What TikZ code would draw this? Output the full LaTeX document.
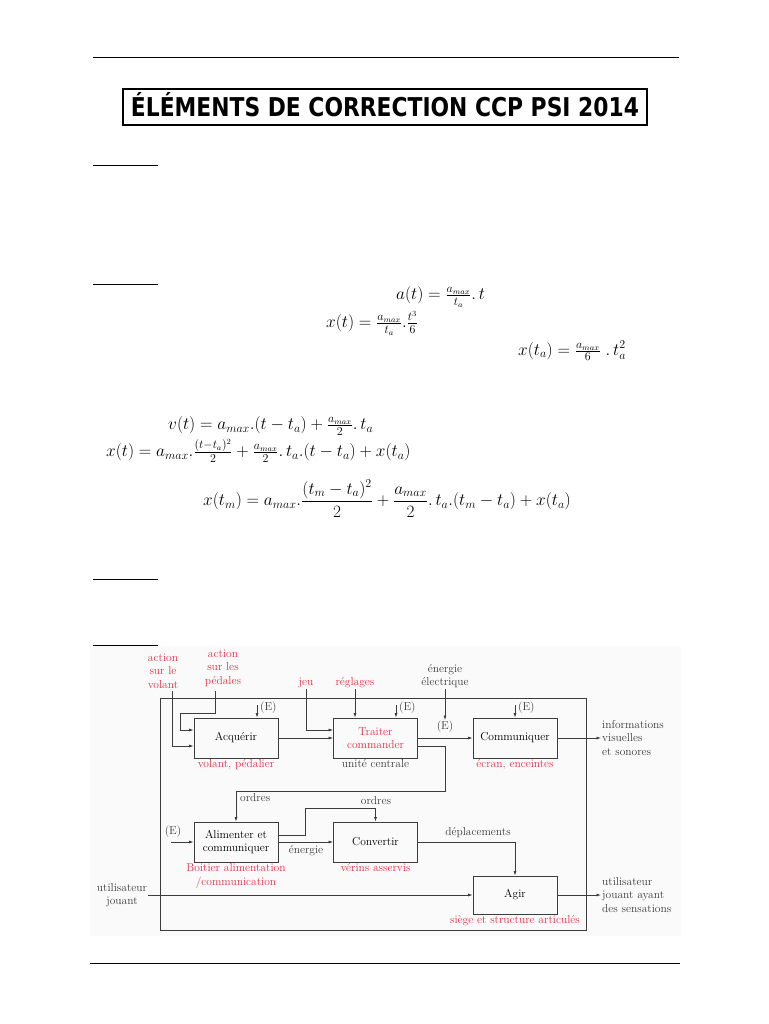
\documentclass[tikz,border=0pt]{standalone}
\usepackage{fontspec}
\newfontfamily\titlefont{DejaVu Sans}
\usetikzlibrary{arrows.meta,positioning}
\definecolor{diagred}{RGB}{228,48,72}
\definecolor{diagline}{RGB}{60,60,60}
\newcommand{\diagfont}{\fontsize{11.5}{13.5}\selectfont}
\newcommand{\eqfont}{\fontsize{17}{20}\selectfont}

\begin{document}
\begin{tikzpicture}[x=1pt,y=-1pt,
  block/.style={draw=diagline,line width=0.8pt,minimum width=84pt,minimum height=40pt,inner sep=2pt,align=center,font=\diagfont},
  lbl/.style={font=\diagfont,align=center,inner sep=1pt,text=diagline},
  rlbl/.style={lbl,text=diagred},
  flow/.style={draw=diagline,line width=0.7pt,-{Latex[length=4.5pt,width=3pt]}},
  eq/.style={anchor=west,inner sep=0pt,font=\eqfont},
  rule/.style={line width=1pt}]
\useasboundingbox (0,0) rectangle (768,1024);
% --- page rules ---
\draw[rule] (93,58) -- (679,58);
\draw[rule] (90,963) -- (680,963);
\fill[black!2] (90,646) rectangle (681,936);  % pasted diagram area
\foreach \y in {166,284,579,645}
  \draw[rule] (93,\y) -- (158,\y);
% --- title ---
\node[draw,line width=2pt,minimum width=524pt,minimum height=36pt] (titlebox) at (384.5,107.5) {};
\node[anchor=base,inner sep=0pt] (title) at (385,117) {\resizebox{508pt}{24pt}{\titlefont\bfseries ÉLÉMENTS DE CORRECTION CCP PSI 2014}};
% --- formulas ---
\node[eq] (eqa) at (396,297) {$a(t)=\frac{a_{max}}{t_a}.\,t$};
\node[eq] (eqx) at (326,323) {$x(t)=\frac{a_{max}}{t_a}.\frac{t^3}{6}$};
\node[eq] (eqxa) at (518,351) {$x(t_a)=\frac{a_{max}}{6}\;.\,t_a^2$};
\node[eq] (eqv) at (168,426) {$v(t)=a_{max}.(t-t_a)+\frac{a_{max}}{2}.\,t_a$};
\node[eq] (eqx2) at (106,451) {$x(t)=a_{max}.\frac{(t-t_a)^2}{2}+\frac{a_{max}}{2}.\,t_a.(t-t_a)+x(t_a)$};
\node[eq] (eqxm) at (203,499) {$\displaystyle x(t_m)=a_{max}.\frac{(t_m-t_a)^2}{2}+\frac{a_{max}}{2}.\,t_a.(t_m-t_a)+x(t_a)$};
% --- diagram frame ---
\draw[diagline,line width=0.8pt] (160,698) rectangle (586,930);
% --- blocks ---
\node[block] (acq) at (236,738) {Acquérir};
\node[block,text=diagred] (trait) at (375.5,738) {Traiter\\commander};
\node[block] (comm) at (515,738) {Communiquer};
\node[block] (alim) at (236,842) {Alimenter et\\communiquer};
\node[block] (conv) at (375.5,842) {Convertir};
\node[block,minimum height=38pt] (agir) at (515,895) {Agir};
% --- names under blocks ---
\node[rlbl,anchor=north] (lacq) at (acq.south) {volant, pédalier};
\node[lbl,anchor=north] (ltrait) at (trait.south) {unité centrale};
\node[rlbl,anchor=north] (lcomm) at (comm.south) {écran, enceintes};
\node[rlbl,anchor=north] (lalim) at (alim.south) {Boitier alimentation\\/communication};
\node[rlbl,anchor=north] (lconv) at (conv.south) {vérins asservis};
\node[rlbl,anchor=north] (lagir) at (agir.south) {siège et structure articulés};
% --- inputs ---
\node[rlbl] (lvol) at (163,671) {action\\sur le\\volant};
\node[rlbl] (lped) at (223,668) {action\\sur les\\pédales};
\node[rlbl] (ljeu) at (306,683) {jeu};
\node[rlbl] (lreg) at (355,683) {réglages};
\node[lbl] (lelec) at (445,676) {énergie\\électrique};
\coordinate (vol) at (172,691);
\coordinate (ped) at (215,691);
\coordinate (pedk) at (180,713);
\draw[flow] (vol) |- ([yshift=-8pt]acq.west);
\draw[flow] (ped) |- (pedk) |- ([yshift=8pt]acq.west);
\draw[flow] (ljeu.south) |- ([yshift=8pt]trait.west);
\draw[flow] (lreg.south) -- (lreg.south |- trait.north);
% --- energy (E) ---
\coordinate (eacq) at (257,705);
\coordinate (etrait) at (396,705);
\coordinate (ecomm) at (515,705);
\draw[flow] (eacq) -- (eacq |- acq.north);
\draw[flow] (etrait) -- (etrait |- trait.north);
\draw[flow] (ecomm) -- (ecomm |- comm.north);
\node[lbl,anchor=west] (e1) at (259,708) {(E)};
\node[lbl,anchor=west] (e2) at (398,708) {(E)};
\node[lbl,anchor=west] (e3) at (517,708) {(E)};
\node[lbl] (e4) at (445,727) {(E)};
\draw[flow] (lelec.south) -- (e4.north);
\node[lbl] (e5) at (173,832) {(E)};
\coordinate (ealim) at (171,842);
\draw[flow] (ealim) -- (alim.west);
% --- flows between blocks ---
\draw[flow] (acq) -- (trait);
\draw[flow] (trait) -- (comm);
\coordinate (ordk) at (445,791);
\draw[flow] ([yshift=-8pt]trait.east) -| (ordk) -| (alim.north);
\node[lbl,anchor=west] (lord1) at (239,798) {ordres};
\draw[flow] (alim) -- (conv);
\node[lbl] (lener) at (306,851) {énergie};
\coordinate (ord2k) at (305,808);
\draw[flow] ([yshift=7pt]alim.east) -| (ord2k) -| (conv.north);
\node[lbl] (lord2) at (376,801) {ordres};
\draw[flow] (conv) -| (agir);
\node[lbl] (ldep) at (478,833) {déplacements};
% --- outputs ---
\node[lbl,align=left,anchor=west] (linfo) at (601,738) {informations\\visuelles\\et sonores};
\draw[flow] (comm) -- (linfo);
\node[lbl] (luser) at (122,895) {utilisateur\\jouant};
\draw[flow] (luser) -- (agir);
\node[lbl,align=left,anchor=west] (lsens) at (601,895) {utilisateur\\jouant ayant\\des sensations};
\draw[flow] (agir) -- (lsens);
\end{tikzpicture}
\end{document}
